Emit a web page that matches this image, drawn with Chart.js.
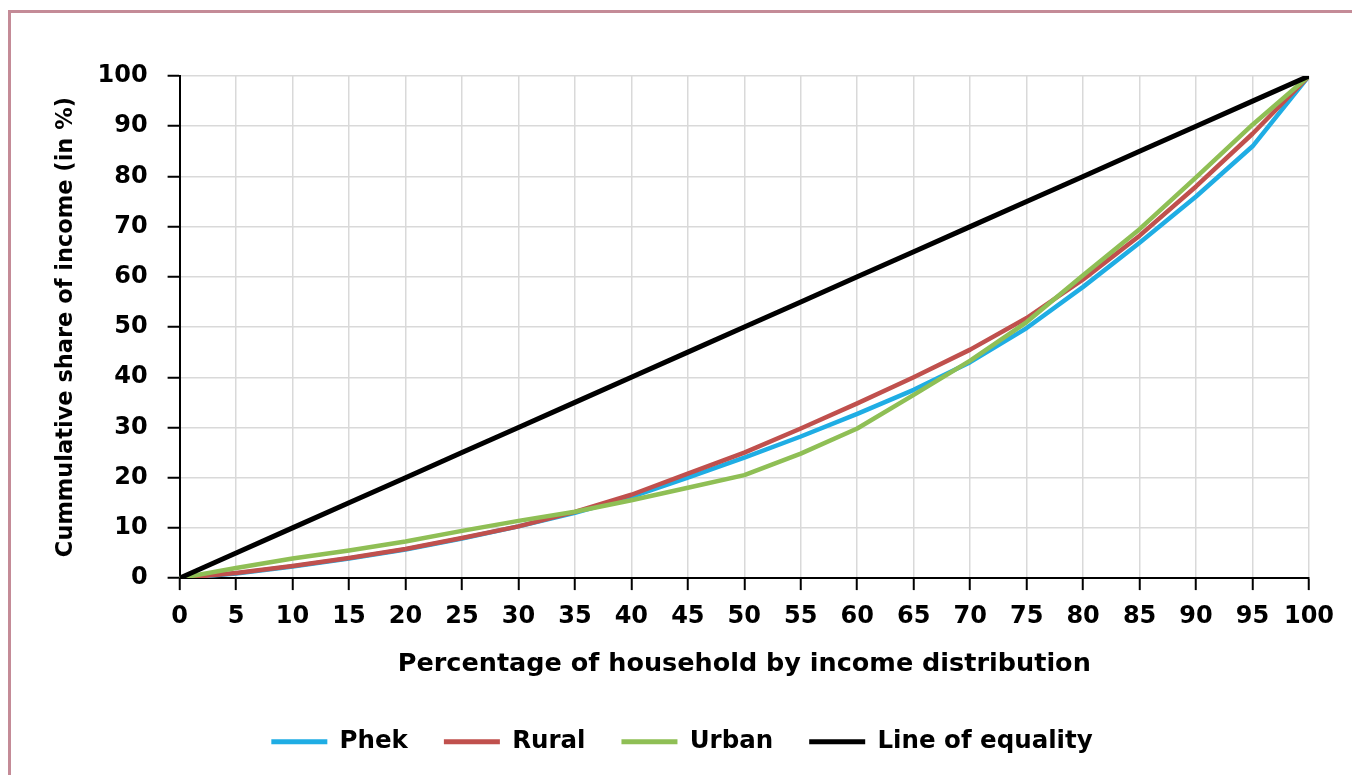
<!DOCTYPE html>
<html>
<head>
<meta charset="utf-8">
<script src="https://cdn.jsdelivr.net/npm/chart.js@4.4.1/dist/chart.umd.min.js"></script>
<style>
  html, body { margin: 0; padding: 0; background: #fff; }
  #frame { position: absolute; left: 8px; top: 10px; width: 1400px; height: 800px; border: 3px solid #c48b97; }
  #wrap { position: absolute; left: 0; top: 0; width: 1352px; height: 775px; }
</style>
</head>
<body>
<div id="frame"></div>
<div id="wrap"><canvas id="lorenz"></canvas></div>
<script>
// Lorenz curves, Phek district
const households = [0, 5, 10, 15, 20, 25, 30, 35, 40, 45, 50, 55, 60, 65, 70, 75, 80, 85, 90, 95, 100];
const phek     = [0, 0.9, 2.3, 3.9, 5.7, 7.9, 10.3, 13.0, 16.2, 20.0, 24.0, 28.2, 32.7, 37.5, 43.0, 49.8, 58.0, 66.8, 76.0, 86.0, 100];
const rural    = [0, 1.0, 2.4, 4.0, 5.8, 8.0, 10.3, 13.2, 16.6, 20.8, 25.0, 29.8, 34.8, 40.0, 45.5, 51.8, 59.5, 68.2, 78.0, 88.5, 100];
const urban    = [0, 2.0, 3.9, 5.5, 7.3, 9.4, 11.4, 13.2, 15.5, 18.0, 20.5, 24.8, 29.8, 36.5, 43.3, 51.0, 60.3, 69.5, 79.8, 90.3, 100];
const equality = [0, 5, 10, 15, 20, 25, 30, 35, 40, 45, 50, 55, 60, 65, 70, 75, 80, 85, 90, 95, 100];

const seriesNames = ['Phek', 'Rural', 'Urban', 'Line of equality'];
const seriesColors = ['#1fade4', '#c0504d', '#8fbf55', '#000000'];

function toPoints(values) {
  return households.map((x, i) => ({ x: x, y: values[i] }));
}

const font = 'DejaVu Sans';

const datasets = [phek, rural, urban, equality].map((vals, i) => ({
  label: seriesNames[i],
  data: toPoints(vals),
  borderColor: seriesColors[i],
  backgroundColor: seriesColors[i],
  borderWidth: i === 3 ? 5 : 4.5,
  pointRadius: 0,
  tension: 0,
  borderCapStyle: 'round',
  borderJoinStyle: 'round',
  order: 3 - i
}));

window.addEventListener('load', () => {
  const ctx = document.getElementById('lorenz').getContext('2d');
  window.lorenzChart = new Chart(ctx, {
    type: 'line',
    data: { datasets: datasets },
    options: {
      responsive: true,
      maintainAspectRatio: false,
      animation: false,
      layout: { padding: { left: 55, right: 43, top: 76, bottom: 11 } },
      scales: {
        x: {
          type: 'linear',
          min: 0,
          max: 100,
          ticks: { stepSize: 5, color: '#000', padding: 12, maxRotation: 0, autoSkip: false,
                   font: { family: font, size: 24, weight: 'bold' } },
          grid: { color: '#d9d9d9', lineWidth: 1.5, tickColor: '#000', tickLength: 12, tickWidth: 2 },
          border: { color: '#000', width: 2 },
          title: {
            display: true,
            text: 'Percentage of household by income distribution',
            color: '#000',
            font: { family: font, size: 25.5, weight: 'bold' },
            padding: { top: 6, bottom: 14 }
          }
        },
        y: {
          min: 0,
          max: 100,
          ticks: { stepSize: 10, color: '#000', padding: 20,
                   font: { family: font, size: 24, weight: 'bold' } },
          grid: { color: '#d9d9d9', lineWidth: 1.5, tickColor: '#000', tickLength: 12, tickWidth: 2 },
          border: { color: '#000', width: 2 },
          title: {
            display: true,
            text: 'Cummulative share of income (in %)',
            color: '#000',
            font: { family: font, size: 22.5, weight: 'bold', lineHeight: 1.0 },
            padding: { top: 0, bottom: 0 }
          }
        }
      },
      plugins: {
        legend: {
          position: 'bottom',
          labels: {
            color: '#000',
            boxWidth: 56,
            boxHeight: 5,
            padding: 36,
            font: { family: font, size: 24.5, weight: 'bold' },
            sort: (a, b) => a.datasetIndex - b.datasetIndex,
            generateLabels: (chart) => {
              const items = Chart.defaults.plugins.legend.labels.generateLabels(chart);
              items.forEach((it) => { it.lineWidth = 0; it.fillStyle = it.strokeStyle; });
              return items;
            }
          }
        },
        tooltip: { enabled: false }
      }
    }
  });
});
</script>
</body>
</html>
